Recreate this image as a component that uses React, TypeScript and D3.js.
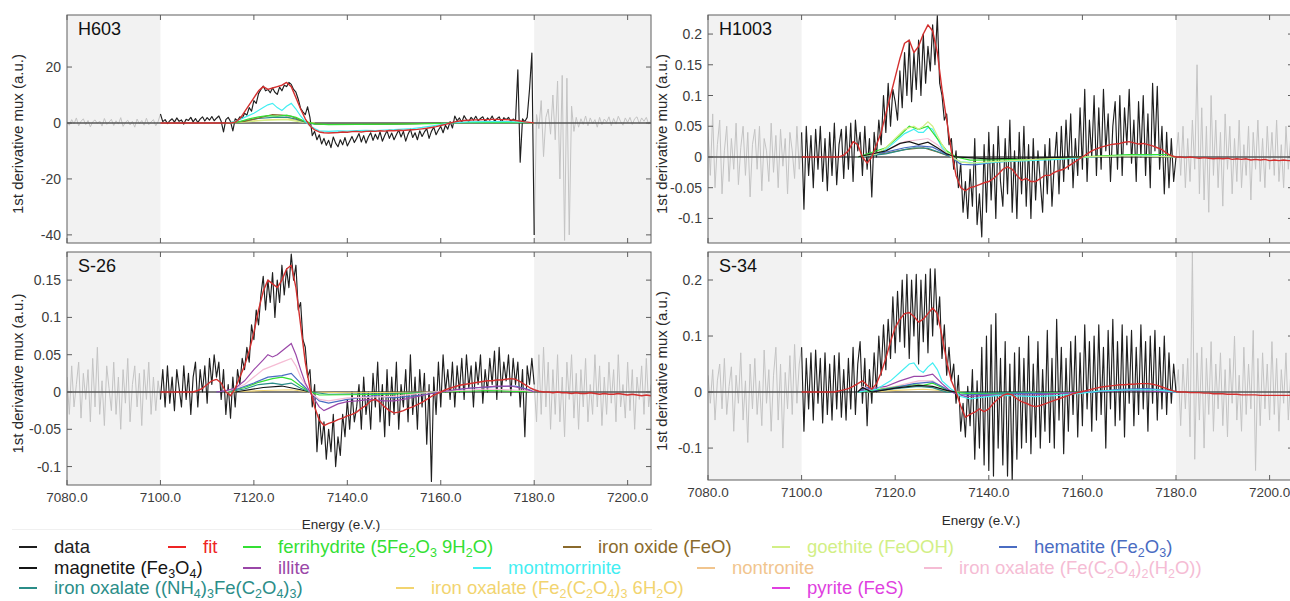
import React from "react";
import * as d3 from "d3";

// ---------- shared axis values ----------
const X_DOMAIN: [number, number] = [7080, 7205];
const X_TICKS = [7080, 7100, 7120, 7140, 7160, 7180, 7200];
const FIT_WINDOW: [number, number] = [7100, 7180];
const DATA_START = 7080; // eV, data sampled every 0.5 eV
const DATA_STEP = 0.5;
const FIT_START = 7100; // eV, fit sampled every 1 eV
const FIT_STEP = 1;

// ---------- H603 ----------
const H603_data = [
  // 7080 - 7099.5 (outside fit window)
  0.5, -0.8, 1.2, -0.3, 1.8, -1.0, 0.6, 1.5, -0.6, 0.9, -1.4, 0.4, 1.1, -0.2, 0.7, -1.1, 1.6, -0.5, 0.3, 1.3,
  -0.9, 0.8, -0.4, 1.9, -1.2, 0.2, 1.0, -0.7, 0.6, -1.5, 1.4, -0.3, 0.9, -0.8, 1.7, -0.6, 0.4, 1.2, -1.0, 0.5,
  // 7100 - 7179.5
  3.2, 0.5, 1.2, -0.2, 0.8, 1.5, 0.3, 1.8, 0.6, 1.1, -0.4, 1.3, 0.9, 2.0, 0.4, 1.6,
  0.2, 1.4, 2.2, 0.7, 1.9, 1.0, 2.3, 0.8, 1.7, 2.5, 0.6, -3.2, 1.2, 2.0, 0.5, -2.8,
  1.5, 0.8, 2.2, 1.6, 3.5, 2.8, 5.5, 4.2, 8.0, 7.0, 10.5, 12.0, 13.2, 11.5, 12.0, 10.8,
  12.5, 11.0, 10.2, 12.8, 11.5, 13.5, 13.0, 14.5, 13.8, 12.0, 11.0, 8.5, 5.2, 4.0, 3.0, 5.8,
  2.0, -4.5, -3.0, -6.0, -4.2, -7.5, -5.5, -8.0, -6.2, -8.8, -5.0, -7.2, -8.5, -6.0, -7.8, -5.2,
  -8.2, -6.5, -4.8, -7.0, -5.5, -3.8, -6.8, -4.5, -7.2, -5.0, -3.5, -6.2, -4.0, -5.8, -3.2, -6.5,
  -4.5, -2.8, -5.5, -3.6, -6.0, -4.2, -2.5, -5.0, -3.0, -6.5, -4.0, -2.2, -5.2, -3.5, -6.0, -2.8,
  -4.8, -3.2, -2.0, -5.5, -3.0, -1.5, -4.2, -2.5, -1.2, -3.5, -0.8, -2.2, 0.5, -1.8, 2.5, 0.8,
  1.8, 0.2, 2.6, 1.2, 0.5, 2.0, 1.0, 2.4, 0.8, 1.6, 2.2, 0.4, 1.8, 1.0, 2.5, 0.6,
  1.5, 2.2, 0.3, 1.9, 1.2, 2.0, 0.5, 1.4, 0.8, 19.0, -14.0, 1.5, 0.5, 2.0, 12.0, 25.0,
  // 7180 - 7205
  -40, 3, -2, 8, -12, 2, 5, -4, 10, -6, 15, -20, 17, -42, 16, -40, 6, -3, 2, -1.5,
  1.5, -0.5, 2.5, -1, 1.8, -0.3, 1.2, -1.5, 2.0, -0.6, 1.4, 0.3, 2.2, -1.0, 1.6, -0.4, 2.4, 0.5, -0.8, 1.8,
  0.2, 2.0, -0.5, 1.5, 2.2, -0.2, 1.8, 0.6, 2.0, -0.4, 1.0,
];
const H603_fit = [
  0, 0, 0, 0, 0, 0, 0, 0, 0, 0, 0, 0, 0, 0, 0, 0,
  0.3, 1.5, 4, 6.5, 9, 11.5, 13, 12, 12.5, 13, 13.5, 14.5, 13, 9, 5, 1.5, -1, -2.5, -3.2, -3.5,
  -3.6, -3.5, -3.4, -3.2, -3.3, -3.1, -3.0, -3.2, -3.0, -2.9,
  -3.0, -2.8, -2.9, -2.7, -2.8, -2.6, -2.7, -2.5, -2.4, -2.3,
  -2.1, -1.9, -1.6, -1.3, -0.9, -0.5, 0, 0.4, 0.7, 0.9,
  1.0, 1.1, 1.1, 1.2, 1.2, 1.3, 1.3, 1.2, 1.2, 1.1,
  0.9, 0.7, 0.4, 0.2, 0,
];
const H603_montmorrinite: [number, number][] = [[7114,0],[7116,0.5],[7118,2],[7120,3.5],[7122,5.5],[7123,6.5],[7124,7],[7125,5.5],[7126,4.5],[7127,6],[7128,7],[7129,5],[7130,2.5],[7131,0.5],[7132,-1],[7133,-2],[7134,-2.8],[7136,-3],[7138,-2.8],[7140,-2.9],[7142,-2.7],[7144,-2.6],[7146,-2.7],[7148,-2.5],[7150,-2.4],[7152,-2.2],[7154,-2.0],[7156,-1.6],[7158,-1.1],[7160,-0.6],[7162,0],[7166,0.4],[7170,0.5],[7174,0.5],[7178,0.3],[7180,0]];
const H603_ferrihydrite: [number, number][] = [[7114,0],[7117,0.5],[7119,1.5],[7121,2.2],[7123,2.6],[7125,2.4],[7127,2.8],[7129,2],[7131,0.5],[7133,-0.3],[7136,-0.6],[7142,-0.5],[7150,-0.4],[7158,-0.2],[7162,0],[7170,0.2],[7178,0.1],[7180,0]];
const H603_ironOxide: [number, number][] = [[7114,0],[7118,0.6],[7120,1.4],[7122,2.2],[7124,3],[7126,2.8],[7128,2.4],[7130,1],[7132,0],[7135,-0.5],[7145,-0.4],[7155,-0.2],[7160,0]];
const H603_oxalateNH4: [number, number][] = [[7115,0],[7118,0.8],[7121,1.6],[7124,2],[7127,2.1],[7129,1.4],[7131,0.3],[7133,-0.4],[7140,-0.5],[7150,-0.4],[7160,0]];
const H603_goethite: [number, number][] = [[7115,0],[7119,0.5],[7123,1],[7127,1.2],[7130,0.4],[7133,0]];
const H603_oxalateFe2: [number, number][] = [[7114,0],[7120,0.8],[7124,1.2],[7128,1.4],[7131,0.3],[7133,0]];

// ---------- H1003 ----------
const H1003_data = [
  0.045, -0.03, 0.07, -0.05, 0.02, 0.06, -0.06, 0.01, 0.05, -0.04,
  0.03, -0.02, 0.055, -0.045, 0.015, 0.05, -0.03, 0.04, -0.065, 0.02,
  0.045, -0.02, 0.05, -0.055, 0.03, 0.01, -0.04, 0.055, -0.025, 0.035,
  -0.05, 0.045, -0.015, 0.03, -0.06, 0.04, 0.01, -0.035, 0.05, -0.02,
  // 7100 - 7179.5
  0.04, -0.085, 0.05, -0.03, 0.035, -0.05, 0.045, -0.02, 0.05, -0.04, 0.03, -0.055, 0.04, -0.03, 0.055, -0.045,
  0.02, 0.045, -0.035, 0.05, -0.02, 0.055, -0.04, 0.06, 0.01, 0.04, -0.03, 0.05, -0.02, 0.03, -0.065, 0.04,
  0.0, 0.06, 0.02, 0.1, 0.04, 0.12, 0.05, 0.11, 0.09, 0.06, 0.14, 0.08, 0.17, 0.1, 0.19, 0.09,
  0.17, 0.11, 0.19, 0.1, 0.2, 0.12, 0.18, 0.14, 0.215, 0.15, 0.23, 0.12, 0.1, 0.06, 0.07, 0.02,
  0.03, -0.02, 0.01, -0.05, -0.01, -0.09, -0.04, -0.1, -0.02, -0.08, 0.03, -0.11, -0.06, -0.13, 0.02, -0.09,
  0.04, -0.07, 0.02, -0.1, 0.05, -0.04, -0.08, 0.03, -0.06, 0.06, -0.09, 0.01, -0.1, 0.04, -0.06, 0.05,
  -0.08, 0.02, -0.1, 0.03, -0.07, 0.01, -0.04, -0.09, 0.02, -0.06, 0.03, -0.08, -0.01, 0.04, -0.06, 0.05,
  -0.04, 0.06, -0.02, 0.07, -0.05, 0.03, -0.03, 0.08, -0.02, 0.11, -0.04, 0.06, 0.0, 0.1, -0.03, 0.08,
  -0.02, 0.11, 0.01, 0.07, -0.04, 0.05, 0.09, -0.02, 0.1, -0.03, 0.08, 0.02, 0.11, -0.01, 0.06, -0.04,
  0.09, 0.0, 0.1, -0.03, 0.07, -0.05, 0.12, 0.01, 0.115, -0.02, 0.05, -0.06, 0.04, -0.05, 0.03, -0.04,
  // 7180 - 7205
  0.0, 0.04, -0.03, 0.05, -0.05, 0.03, -0.04, 0.06, -0.02, 0.15,
  -0.06, 0.08, -0.07, 0.05, -0.09, 0.1, -0.03, 0.06, -0.05, 0.04,
  -0.08, 0.07, -0.02, 0.05, -0.06, 0.03, -0.04, 0.06, -0.05, 0.02,
  -0.03, 0.05, -0.07, 0.04, -0.02, 0.06, -0.04, 0.03, -0.05, 0.05,
  -0.02, 0.04, -0.03, 0.06, -0.04, 0.02, -0.05, 0.05, -0.02, 0.03, -0.03,
];
const H1003_fit = [
  0, 0, 0, 0, 0, 0, 0, 0, 0, 0.003,
  0.01, 0.025, 0.02, 0.0, -0.01, 0.0, 0.02, 0.04, 0.07, 0.1,
  0.13, 0.16, 0.185, 0.19, 0.17, 0.18, 0.2, 0.215, 0.205, 0.17,
  0.11, 0.06, 0.01, -0.03, -0.05, -0.055, -0.05, -0.048, -0.045, -0.042,
  -0.04, -0.035, -0.028, -0.02, -0.016, -0.02, -0.03, -0.038, -0.035, -0.04,
  -0.04, -0.035, -0.03, -0.03, -0.025, -0.022, -0.02, -0.015, -0.01, -0.005,
  0.0, 0.005, 0.01, 0.013, 0.016, 0.018, 0.02, 0.021, 0.022, 0.024,
  0.025, 0.023, 0.021, 0.022, 0.02, 0.018, 0.015, 0.012, 0.006, 0.002,
  0.0, 0.0, -0.001, 0.0, -0.001, -0.002, -0.001, -0.002, -0.003, -0.002,
  -0.003, -0.002, -0.004, -0.003, -0.004, -0.003, -0.005, -0.004, -0.005, -0.004,
  -0.006, -0.005, -0.006, -0.005, -0.006, -0.006,
];
const H1003_goethite: [number, number][] = [[7112,0],[7116,0.005],[7118,0.015],[7120,0.03],[7122,0.045],[7124,0.05],[7125,0.045],[7126,0.05],[7127,0.057],[7128,0.05],[7129,0.035],[7130,0.02],[7131,0.008],[7132,0],[7134,-0.008],[7136,-0.01],[7140,-0.008],[7145,-0.006],[7150,-0.004],[7160,0],[7170,0.002],[7180,0]];
const H1003_montmorrinite: [number, number][] = [[7112,0],[7116,0.005],[7118,0.012],[7120,0.025],[7122,0.038],[7124,0.045],[7125,0.04],[7126,0.04],[7127,0.048],[7128,0.045],[7129,0.03],[7130,0.015],[7132,0],[7134,-0.008],[7138,-0.01],[7145,-0.007],[7155,-0.004],[7162,0],[7170,0.003],[7180,0]];
const H1003_ferrihydrite: [number, number][] = [[7112,0],[7118,0.015],[7121,0.035],[7123,0.05],[7125,0.045],[7127,0.05],[7129,0.03],[7131,0.01],[7133,0],[7136,-0.005],[7150,-0.004],[7160,0],[7170,0.004],[7178,0.004],[7180,0]];
const H1003_hematite: [number, number][] = [[7112,0],[7118,0.008],[7122,0.015],[7125,0.018],[7128,0.016],[7130,0.008],[7132,0],[7134,-0.012],[7137,-0.013],[7142,-0.008],[7150,-0.004],[7160,0]];
const H1003_magnetite: [number, number][] = [[7112,0],[7118,0.01],[7121,0.022],[7123,0.025],[7125,0.02],[7127,0.024],[7129,0.015],[7131,0.005],[7133,0],[7140,-0.003],[7160,0]];
const H1003_oxalateNH4: [number, number][] = [[7112,0],[7118,0.005],[7122,0.012],[7124,0.015],[7127,0.014],[7130,0.006],[7132,0]];
const H1003_oxalateFeH2O: [number, number][] = [[7112,0],[7118,0.01],[7122,0.025],[7125,0.028],[7127,0.03],[7129,0.02],[7131,0.005],[7133,0]];
const H1003_ironOxide: [number, number][] = [[7112,0],[7118,0.006],[7122,0.012],[7126,0.015],[7129,0.008],[7132,0]];

// ---------- S-26 ----------
const S26_data = [
  0.02, -0.03, 0.035, -0.02, 0.01, 0.04, -0.035, 0.025, -0.01, 0.03,
  -0.04, 0.045, -0.02, 0.06, -0.03, 0.015, -0.045, 0.035, 0.005, -0.025,
  0.04, -0.03, 0.02, -0.05, 0.03, -0.015, 0.045, -0.04, 0.01, 0.035,
  -0.02, 0.025, -0.045, 0.03, -0.01, 0.04, -0.03, 0.02, -0.025, 0.015,
  // 7100 - 7179.5
  -0.01, 0.03, -0.02, 0.035, -0.015, 0.02, -0.025, 0.03, 0.005, -0.02, 0.035, -0.01, 0.025, -0.03, 0.02, 0.04,
  -0.02, 0.03, 0.0, 0.035, -0.015, 0.045, 0.01, 0.05, 0.02, 0.04, -0.01, 0.03, -0.03, 0.01, -0.035, 0.02,
  -0.02, 0.03, 0.01, 0.045, 0.03, 0.06, 0.04, 0.09, 0.07, 0.11, 0.09, 0.13, 0.155, 0.11, 0.15, 0.12,
  0.16, 0.1, 0.15, 0.12, 0.17, 0.13, 0.165, 0.14, 0.185, 0.15, 0.17, 0.11, 0.12, 0.07, 0.06, 0.02,
  0.03, -0.02, 0.01, -0.08, -0.03, -0.07, -0.04, -0.09, -0.05, -0.08, -0.03, -0.1, -0.06, -0.085, -0.03, -0.06,
  -0.01, -0.05, 0.0, -0.04, -0.02, 0.01, -0.05, 0.02, -0.03, 0.0, -0.05, 0.025, -0.02, 0.04, -0.04, 0.01,
  -0.06, 0.03, -0.045, 0.02, -0.03, 0.04, -0.05, 0.01, -0.02, 0.03, -0.04, 0.05, -0.03, 0.02, -0.05, 0.03,
  -0.02, 0.025, -0.07, 0.01, -0.12, 0.02, -0.03, 0.04, -0.02, 0.05, 0.0, 0.03, -0.01, 0.04, -0.02, 0.035,
  0.0, 0.045, -0.01, 0.05, 0.005, 0.035, -0.02, 0.04, 0.01, 0.05, -0.015, 0.03, 0.0, 0.045, 0.01, 0.055,
  -0.01, 0.06, 0.0, 0.04, 0.015, 0.05, -0.005, 0.045, 0.01, 0.04, -0.02, 0.03, -0.06, 0.035, 0.01, 0.045,
  // 7180 - 7205
  0.01, -0.04, 0.05, -0.03, 0.06, -0.02, 0.04, -0.05, 0.03, -0.03,
  0.05, -0.04, 0.02, -0.06, 0.04, -0.01, 0.05, -0.035, 0.025, -0.05,
  0.03, -0.02, 0.045, -0.04, 0.01, -0.03, 0.05, -0.02, 0.035, -0.045,
  0.02, -0.03, 0.04, -0.015, 0.03, -0.04, 0.05, -0.02, 0.01, -0.035,
  0.04, -0.025, 0.03, -0.05, 0.02, -0.01, 0.035, -0.03, 0.045, -0.02, 0.01,
];
const S26_fit = [
  0, 0, 0, 0, 0, 0, 0, 0, 0.002, 0.005,
  0.01, 0.015, 0.017, 0.012, 0.0, -0.005, 0.005, 0.02, 0.035, 0.055,
  0.08, 0.11, 0.135, 0.15, 0.145, 0.14, 0.15, 0.165, 0.17, 0.14,
  0.09, 0.04, 0.005, -0.02, -0.038, -0.045, -0.042, -0.04, -0.037, -0.035,
  -0.032, -0.03, -0.027, -0.022, -0.018, -0.012, -0.01, -0.014, -0.02, -0.025,
  -0.028, -0.027, -0.025, -0.022, -0.02, -0.017, -0.014, -0.01, -0.006, -0.003,
  0.0, 0.003, 0.005, 0.007, 0.009, 0.01, 0.011, 0.012, 0.013, 0.014,
  0.015, 0.015, 0.016, 0.016, 0.017, 0.018, 0.017, 0.014, 0.01, 0.006,
  0.003, 0.001, 0.0, 0.0, -0.001, 0.0, -0.001, -0.001, -0.002, -0.001,
  -0.002, -0.002, -0.001, -0.002, -0.003, -0.002, -0.003, -0.003, -0.002, -0.003,
  -0.004, -0.003, -0.004, -0.005, -0.004, -0.005,
];
const S26_illite: [number, number][] = [[7112,0],[7114,0.002],[7116,0.005],[7118,0.015],[7120,0.03],[7122,0.043],[7123,0.05],[7124,0.047],[7125,0.05],[7126,0.055],[7127,0.06],[7128,0.065],[7129,0.05],[7130,0.03],[7131,0.012],[7132,0],[7133,-0.01],[7134,-0.02],[7135,-0.025],[7136,-0.022],[7138,-0.016],[7140,-0.013],[7142,-0.012],[7145,-0.01],[7148,-0.012],[7150,-0.012],[7152,-0.01],[7155,-0.006],[7158,-0.002],[7160,0],[7164,0.004],[7168,0.006],[7172,0.008],[7175,0.008],[7178,0.004],[7180,0]];
const S26_oxalateFeH2O: [number, number][] = [[7114,0],[7118,0.01],[7120,0.02],[7122,0.03],[7124,0.035],[7126,0.04],[7128,0.045],[7129,0.035],[7130,0.02],[7132,0],[7134,-0.01],[7136,-0.012],[7140,-0.008],[7150,-0.006],[7158,0],[7170,0.004],[7178,0.002],[7180,0]];
const S26_hematite: [number, number][] = [[7112,0],[7116,0.003],[7120,0.012],[7123,0.02],[7126,0.022],[7128,0.025],[7130,0.012],[7132,0],[7134,-0.012],[7136,-0.015],[7140,-0.01],[7146,-0.005],[7150,-0.008],[7156,-0.004],[7160,0],[7166,0.005],[7172,0.007],[7176,0.008],[7179,0.003],[7180,0]];
const S26_ferrihydrite: [number, number][] = [[7114,0],[7118,0.006],[7121,0.013],[7124,0.018],[7126,0.02],[7128,0.017],[7130,0.008],[7132,0],[7134,-0.004],[7150,-0.003],[7160,0],[7170,0.002],[7180,0]];
const S26_oxalateNH4: [number, number][] = [[7114,0],[7118,0.004],[7121,0.01],[7124,0.012],[7126,0.01],[7128,0.012],[7130,0.005],[7132,0],[7136,-0.003],[7150,-0.002],[7160,0]];
const S26_magnetite: [number, number][] = [[7116,0],[7122,0.006],[7126,0.008],[7130,0.003],[7132,0]];
const S26_oxalateFe2: [number, number][] = [[7114,0],[7122,0.002],[7128,0.003],[7132,0],[7140,-0.001],[7160,0]];

// ---------- S-34 ----------
const S34_data = [
  0.03, -0.02, 0.04, -0.05, 0.02, 0.05, -0.03, 0.06, -0.04, 0.01,
  0.045, -0.07, 0.03, -0.02, 0.07, -0.05, 0.02, -0.09, 0.05, -0.03,
  0.06, -0.04, 0.02, -0.06, 0.075, -0.02, 0.04, -0.07, 0.03, 0.08,
  -0.05, 0.05, -0.1, 0.035, -0.03, 0.065, -0.04, 0.085, -0.02, 0.05,
  // 7100 - 7179.5
  0.08, -0.07, 0.06, -0.03, 0.07, -0.05, 0.075, -0.02, 0.06, -0.055, 0.07, -0.04, 0.05, -0.05, 0.065, -0.03,
  0.07, -0.045, 0.04, -0.05, 0.06, -0.03, 0.08, -0.04, 0.05, 0.09, -0.02, 0.06, -0.06, 0.04, -0.02, 0.07,
  0.0, 0.1, 0.03, 0.12, 0.04, 0.13, 0.06, 0.17, 0.07, 0.18, 0.09, 0.2, 0.08, 0.21, 0.06, 0.2,
  0.1, 0.21, 0.05, 0.2, 0.09, 0.21, 0.07, 0.22, 0.1, 0.22, 0.12, 0.17, 0.06, 0.12, 0.03, 0.08,
  0.02, 0.05, -0.02, 0.03, -0.07, -0.02, -0.08, 0.01, -0.06, 0.04, -0.12, 0.02, -0.1, 0.08, -0.13, 0.1,
  -0.14, 0.12, -0.15, 0.14, -0.1, 0.06, -0.13, 0.09, -0.15, 0.05, -0.16, 0.07, -0.12, 0.08, -0.1, 0.06,
  -0.09, 0.1, -0.11, 0.05, -0.08, 0.09, -0.1, 0.04, -0.07, 0.11, -0.09, 0.06, -0.1, 0.13, -0.05, 0.08,
  -0.11, 0.06, -0.07, 0.09, -0.04, 0.1, -0.08, 0.07, -0.06, 0.12, -0.03, 0.09, -0.07, 0.1, -0.05, 0.12,
  -0.04, 0.08, -0.1, 0.11, -0.03, 0.13, -0.06, 0.09, -0.05, 0.12, -0.08, 0.1, -0.02, 0.11, -0.06, 0.08,
  -0.04, 0.12, -0.03, 0.09, -0.07, 0.1, -0.02, 0.11, -0.05, 0.08, -0.03, 0.1, -0.04, 0.07, -0.02, 0.05,
  // 7180 - 7205
  0.0, 0.04, -0.06, 0.05, -0.03, 0.06, -0.08, 0.25, -0.12, 0.07,
  -0.05, 0.08, -0.1, 0.06, -0.04, 0.09, -0.07, 0.05, -0.03, 0.07,
  -0.06, 0.04, -0.08, 0.06, -0.02, 0.1, -0.05, 0.03, -0.07, 0.08,
  -0.04, 0.05, -0.03, 0.11, -0.14, 0.06, -0.06, 0.07, -0.03, 0.05,
  -0.05, 0.09, -0.04, 0.06, -0.07, 0.04, -0.02, 0.07, -0.05, 0.03, -0.02,
];
const S34_fit = [
  0, 0, 0, 0, 0, 0, 0, 0, 0.002, 0.004,
  0.006, 0.01, 0.015, 0.02, 0.012, 0.005, 0.015, 0.035, 0.06, 0.09,
  0.115, 0.13, 0.14, 0.142, 0.135, 0.125, 0.13, 0.14, 0.15, 0.14,
  0.1, 0.055, 0.02, 0.0, -0.025, -0.045, -0.04, -0.036, -0.03, -0.035,
  -0.03, -0.02, -0.012, -0.006, -0.003, -0.005, -0.012, -0.017, -0.02, -0.024,
  -0.026, -0.024, -0.021, -0.018, -0.015, -0.012, -0.009, -0.006, -0.003, -0.001,
  0.001, 0.003, 0.005, 0.007, 0.009, 0.01, 0.011, 0.012, 0.013, 0.013,
  0.014, 0.014, 0.015, 0.015, 0.015, 0.014, 0.012, 0.009, 0.006, 0.003,
  0.001, 0.0, 0.0, -0.001, -0.001, -0.001, -0.002, -0.002, -0.003, -0.003,
  -0.003, -0.004, -0.004, -0.004, -0.005, -0.005, -0.005, -0.005, -0.006, -0.006,
  -0.006, -0.006, -0.006, -0.006, -0.006, -0.006,
];
const S34_montmorrinite: [number, number][] = [[7112,0],[7116,0.005],[7119,0.02],[7121,0.035],[7123,0.05],[7124,0.052],[7125,0.04],[7126,0.035],[7127,0.045],[7128,0.052],[7129,0.04],[7130,0.02],[7132,0.005],[7133,0],[7134,-0.008],[7136,-0.012],[7138,-0.01],[7142,-0.006],[7146,-0.007],[7150,-0.008],[7155,-0.006],[7160,-0.002],[7164,0.002],[7170,0.004],[7176,0.004],[7180,0]];
const S34_illite: [number, number][] = [[7112,0],[7114,0.005],[7118,0.01],[7121,0.02],[7124,0.028],[7126,0.028],[7128,0.032],[7130,0.015],[7132,0],[7135,-0.008],[7140,-0.006],[7150,-0.005],[7160,0],[7170,0.003],[7180,0]];
const S34_ferrihydrite: [number, number][] = [[7112,0],[7115,0.003],[7118,0.006],[7121,0.01],[7124,0.013],[7126,0.012],[7128,0.016],[7130,0.008],[7132,0],[7136,-0.003],[7150,-0.002],[7160,0]];
const S34_hematite: [number, number][] = [[7112,0],[7114,0.008],[7116,0.002],[7120,0.008],[7124,0.015],[7128,0.018],[7130,0.01],[7132,0],[7134,-0.005],[7145,-0.003],[7155,-0.002],[7162,0],[7168,0.005],[7174,0.006],[7178,0.003],[7180,0]];
const S34_magnetite: [number, number][] = [[7112,0],[7113,0.008],[7115,0.0],[7120,0.007],[7125,0.012],[7128,0.01],[7131,0.003],[7133,0]];
const S34_oxalateNH4: [number, number][] = [[7114,0],[7120,0.006],[7125,0.01],[7128,0.008],[7131,0],[7140,-0.002],[7150,0]];
const S34_oxalateFeH2O: [number, number][] = [[7112,0],[7113,0.01],[7115,0.003],[7120,0.01],[7125,0.02],[7128,0.02],[7131,0.005],[7133,0]];
const S34_oxalateFe2: [number, number][] = [[7114,0],[7120,0.003],[7126,0.005],[7131,0.002],[7134,0],[7140,-0.004],[7146,-0.002],[7150,0]];

// ---------- legend ----------
const LEGEND_KEYS = [
  "data", "fit", "ferrihydrite", "ironOxide", "goethite", "hematite",
  "magnetite", "illite", "montmorrinite", "nontronite", "oxalateFeH2O",
  "oxalateNH4", "oxalateFe2", "pyrite",
];
const LEGEND_LABELS = [
  "data", "fit", "ferrihydrite (5Fe_2O_3 9H_2O)", "iron oxide (FeO)", "goethite (FeOOH)", "hematite (Fe_2O_3)",
  "magnetite (Fe_3O_4)", "illite", "montmorrinite", "nontronite", "iron oxalate (Fe(C_2O_4)_2(H_2O))",
  "iron oxalate ((NH_4)_3Fe(C_2O_4)_3)", "iron oxalate (Fe_2(C_2O_4)_3 6H_2O)", "pyrite (FeS)",
];

// styles (kept apart from the values)
const COLORS: Record<string, string> = {
  data: "#1f1f1f",
  fit: "#ee2424",
  ferrihydrite: "#34df34",
  ironOxide: "#8a6a2c",
  goethite: "#d2ef86",
  hematite: "#4a6cc2",
  magnetite: "#151515",
  illite: "#9a47a8",
  montmorrinite: "#44eef2",
  nontronite: "#f1c58e",
  oxalateFeH2O: "#f5bcd4",
  oxalateNH4: "#2b8d88",
  oxalateFe2: "#f2d46f",
  pyrite: "#e03fe0",
};
const LEGEND_POS: [number, number][] = [
  [54, 553], [203, 553], [278, 553], [598, 553], [807, 553], [1034, 553],
  [54, 574], [278, 574], [508, 574], [732, 574], [959, 574],
  [54, 594], [431, 594], [807, 594],
];

type Comp = { key: string; pts: [number, number][] };
type PanelDef = {
  name: string;
  data: number[];
  fit: number[];
  comps: Comp[];
  yDomain: [number, number];
  yTicks: number[];
  box: [number, number, number, number]; // x0, x1, y0, y1
  showX: boolean;
  yLabelX: number;
  xLabelX: number;
  xLabelY: number;
};

const PANELS: PanelDef[] = [
  {
    name: "H603", data: H603_data, fit: H603_fit,
    comps: [
      { key: "oxalateFe2", pts: H603_oxalateFe2 },
      { key: "goethite", pts: H603_goethite },
      { key: "oxalateNH4", pts: H603_oxalateNH4 },
      { key: "ironOxide", pts: H603_ironOxide },
      { key: "ferrihydrite", pts: H603_ferrihydrite },
      { key: "montmorrinite", pts: H603_montmorrinite },
    ],
    yDomain: [-42.9, 38.6], yTicks: [-40, -20, 0, 20],
    box: [67, 651, 15, 243], showX: false, yLabelX: 18, xLabelX: 0, xLabelY: 0,
  },
  {
    name: "H1003", data: H1003_data, fit: H1003_fit,
    comps: [
      { key: "ironOxide", pts: H1003_ironOxide },
      { key: "oxalateNH4", pts: H1003_oxalateNH4 },
      { key: "oxalateFeH2O", pts: H1003_oxalateFeH2O },
      { key: "hematite", pts: H1003_hematite },
      { key: "montmorrinite", pts: H1003_montmorrinite },
      { key: "ferrihydrite", pts: H1003_ferrihydrite },
      { key: "goethite", pts: H1003_goethite },
      { key: "magnetite", pts: H1003_magnetite },
    ],
    yDomain: [-0.14, 0.231], yTicks: [-0.1, -0.05, 0, 0.05, 0.1, 0.15, 0.2],
    box: [708, 1293, 15, 243], showX: false, yLabelX: 662, xLabelX: 0, xLabelY: 0,
  },
  {
    name: "S-26", data: S26_data, fit: S26_fit,
    comps: [
      { key: "oxalateFe2", pts: S26_oxalateFe2 },
      { key: "magnetite", pts: S26_magnetite },
      { key: "oxalateNH4", pts: S26_oxalateNH4 },
      { key: "ferrihydrite", pts: S26_ferrihydrite },
      { key: "hematite", pts: S26_hematite },
      { key: "oxalateFeH2O", pts: S26_oxalateFeH2O },
      { key: "illite", pts: S26_illite },
    ],
    yDomain: [-0.1247, 0.1877], yTicks: [-0.1, -0.05, 0, 0.05, 0.1, 0.15],
    box: [67, 651, 252, 485], showX: true, yLabelX: 18, xLabelX: 341, xLabelY: 529,
  },
  {
    name: "S-34", data: S34_data, fit: S34_fit,
    comps: [
      { key: "oxalateFe2", pts: S34_oxalateFe2 },
      { key: "oxalateNH4", pts: S34_oxalateNH4 },
      { key: "oxalateFeH2O", pts: S34_oxalateFeH2O },
      { key: "ferrihydrite", pts: S34_ferrihydrite },
      { key: "hematite", pts: S34_hematite },
      { key: "illite", pts: S34_illite },
      { key: "montmorrinite", pts: S34_montmorrinite },
      { key: "magnetite", pts: S34_magnetite },
    ],
    yDomain: [-0.157, 0.25], yTicks: [-0.1, 0, 0.1, 0.2],
    box: [708, 1293, 252, 480], showX: true, yLabelX: 662, xLabelX: 981, xLabelY: 525,
  },
];

const FONT = "'Liberation Sans', Arial, Helvetica, sans-serif";
const LEGEND_FONT = 18.5;

function Panel({ p, idx }: { p: PanelDef; idx: number }) {
  const [x0, x1, y0, y1] = p.box;
  const xs = d3.scaleLinear().domain(X_DOMAIN).range([x0, x1]);
  const ys = d3.scaleLinear().domain(p.yDomain).range([y1, y0]);
  const line = d3.line<[number, number]>().x((d) => xs(d[0])).y((d) => ys(d[1]));
  const pts: [number, number][] = p.data.map((v, i) => [DATA_START + i * DATA_STEP, v]);
  const left = pts.filter((d) => d[0] <= FIT_WINDOW[0]);
  const mid = pts.filter((d) => d[0] >= FIT_WINDOW[0] && d[0] <= FIT_WINDOW[1]);
  const right = pts.filter((d) => d[0] >= FIT_WINDOW[1]);
  const fitPts: [number, number][] = p.fit.map((v, i) => [FIT_START + i * FIT_STEP, v]);
  const clipId = `clip${idx}`;
  const axisCol = "#5e5e5e";
  const yFmt = (d: number) => String(d);
  return (
    <g>
      <defs>
        <clipPath id={clipId}>
          <rect x={x0} y={y0} width={x1 - x0} height={y1 - y0} />
        </clipPath>
      </defs>
      <rect x={x0} y={y0} width={x1 - x0} height={y1 - y0} fill="#ffffff" />
      <rect x={xs(X_DOMAIN[0])} y={y0} width={xs(FIT_WINDOW[0]) - xs(X_DOMAIN[0])} height={y1 - y0} fill="#f2f2f2" />
      <rect x={xs(FIT_WINDOW[1])} y={y0} width={xs(X_DOMAIN[1]) - xs(FIT_WINDOW[1])} height={y1 - y0} fill="#f2f2f2" />
      <g clipPath={`url(#${clipId})`}>
        <path d={line(left) || ""} fill="none" stroke="#c4c4c4" strokeWidth={1} />
        <path d={line(right) || ""} fill="none" stroke="#c4c4c4" strokeWidth={1} />
        <line x1={x0} x2={x1} y1={ys(0)} y2={ys(0)} stroke="#555555" strokeWidth={1.4} />
        <path d={line(mid) || ""} fill="none" stroke={COLORS.data} strokeWidth={1.15} strokeLinejoin="round" />
        {p.comps.map((c) => (
          <path key={c.key} d={line(c.pts) || ""} fill="none" stroke={COLORS[c.key]} strokeWidth={1.2} />
        ))}
        <path d={line(fitPts) || ""} fill="none" stroke="#d3302f" strokeWidth={1.4} strokeLinejoin="round" />
      </g>
      <rect x={x0} y={y0} width={x1 - x0} height={y1 - y0} fill="none" stroke={axisCol} strokeWidth={1} />
      {X_TICKS.map((t) => (
        <g key={`xt${t}`}>
          <line x1={xs(t)} x2={xs(t)} y1={y1} y2={y1 - 5} stroke={axisCol} />
          <line x1={xs(t)} x2={xs(t)} y1={y0} y2={y0 + 5} stroke={axisCol} />
          {p.showX && (
            <text x={xs(t)} y={y1 + 17} textAnchor="middle" fontSize={13.5} fill="#3c3c3c" fontFamily={FONT}>
              {t.toFixed(1)}
            </text>
          )}
        </g>
      ))}
      {p.yTicks.map((t) => (
        <g key={`yt${t}`}>
          <line x1={x0} x2={x0 + 5} y1={ys(t)} y2={ys(t)} stroke={axisCol} />
          <line x1={x1} x2={x1 - 5} y1={ys(t)} y2={ys(t)} stroke={axisCol} />
          <text x={x0 - 6} y={ys(t) + 5} textAnchor="end" fontSize={14} fill="#3c3c3c" fontFamily={FONT}>
            {yFmt(t)}
          </text>
        </g>
      ))}
      <text x={x0 + 11} y={y0 + 20} fontSize={18} fill="#111" fontFamily={FONT}>
        {p.name}
      </text>
      <text
        transform={`translate(${p.yLabelX + 5},${(y0 + y1) / 2 + 5}) rotate(-90)`}
        textAnchor="middle" fontSize={15} fill="#2a2a2a" fontFamily={FONT}
      >
        1st derivative mux (a.u.)
      </text>
      {p.showX && (
        <text x={p.xLabelX} y={p.xLabelY} textAnchor="middle" fontSize={13.5} fill="#2a2a2a" fontFamily={FONT}>
          Energy (e.V.)
        </text>
      )}
    </g>
  );
}

function Label({ text, x, y, color }: { text: string; x: number; y: number; color: string }) {
  const parts: { t: string; sub: boolean }[] = [];
  let buf = "";
  for (let i = 0; i < text.length; i++) {
    if (text[i] === "_" && i + 1 < text.length) {
      if (buf) parts.push({ t: buf, sub: false });
      buf = "";
      parts.push({ t: text[i + 1], sub: true });
      i++;
    } else buf += text[i];
  }
  if (buf) parts.push({ t: buf, sub: false });
  let shifted = false;
  return (
    <text x={x} y={y} fontSize={LEGEND_FONT} fill={color} fontFamily={FONT}>
      {parts.map((p, k) => {
        let dy = 0;
        if (p.sub && !shifted) { dy = 3.5; shifted = true; }
        else if (!p.sub && shifted) { dy = -3.5; shifted = false; }
        return (
          <tspan key={k} dy={dy} fontSize={p.sub ? 12.5 : LEGEND_FONT}>
            {p.t}
          </tspan>
        );
      })}
    </text>
  );
}

export default function App() {
  return (
    <svg width={1290} height={601} style={{ position: "absolute", left: 0, top: 0, background: "#fff" }}>
      <rect x={0} y={0} width={1290} height={601} fill="#ffffff" />
      <line x1={12} x2={652} y1={529.5} y2={529.5} stroke="#f0f0f0" />
      {PANELS.map((p, i) => (
        <Panel key={p.name} p={p} idx={i} />
      ))}
      {LEGEND_KEYS.map((k, i) => {
        const [lx, ly] = LEGEND_POS[i];
        return (
          <g key={k + i}>
            <line x1={lx - 35} x2={lx - 17} y1={ly - 6} y2={ly - 6} stroke={COLORS[k]} strokeWidth={2} />
            <Label text={LEGEND_LABELS[i]} x={lx} y={ly} color={COLORS[k]} />
          </g>
        );
      })}
    </svg>
  );
}
